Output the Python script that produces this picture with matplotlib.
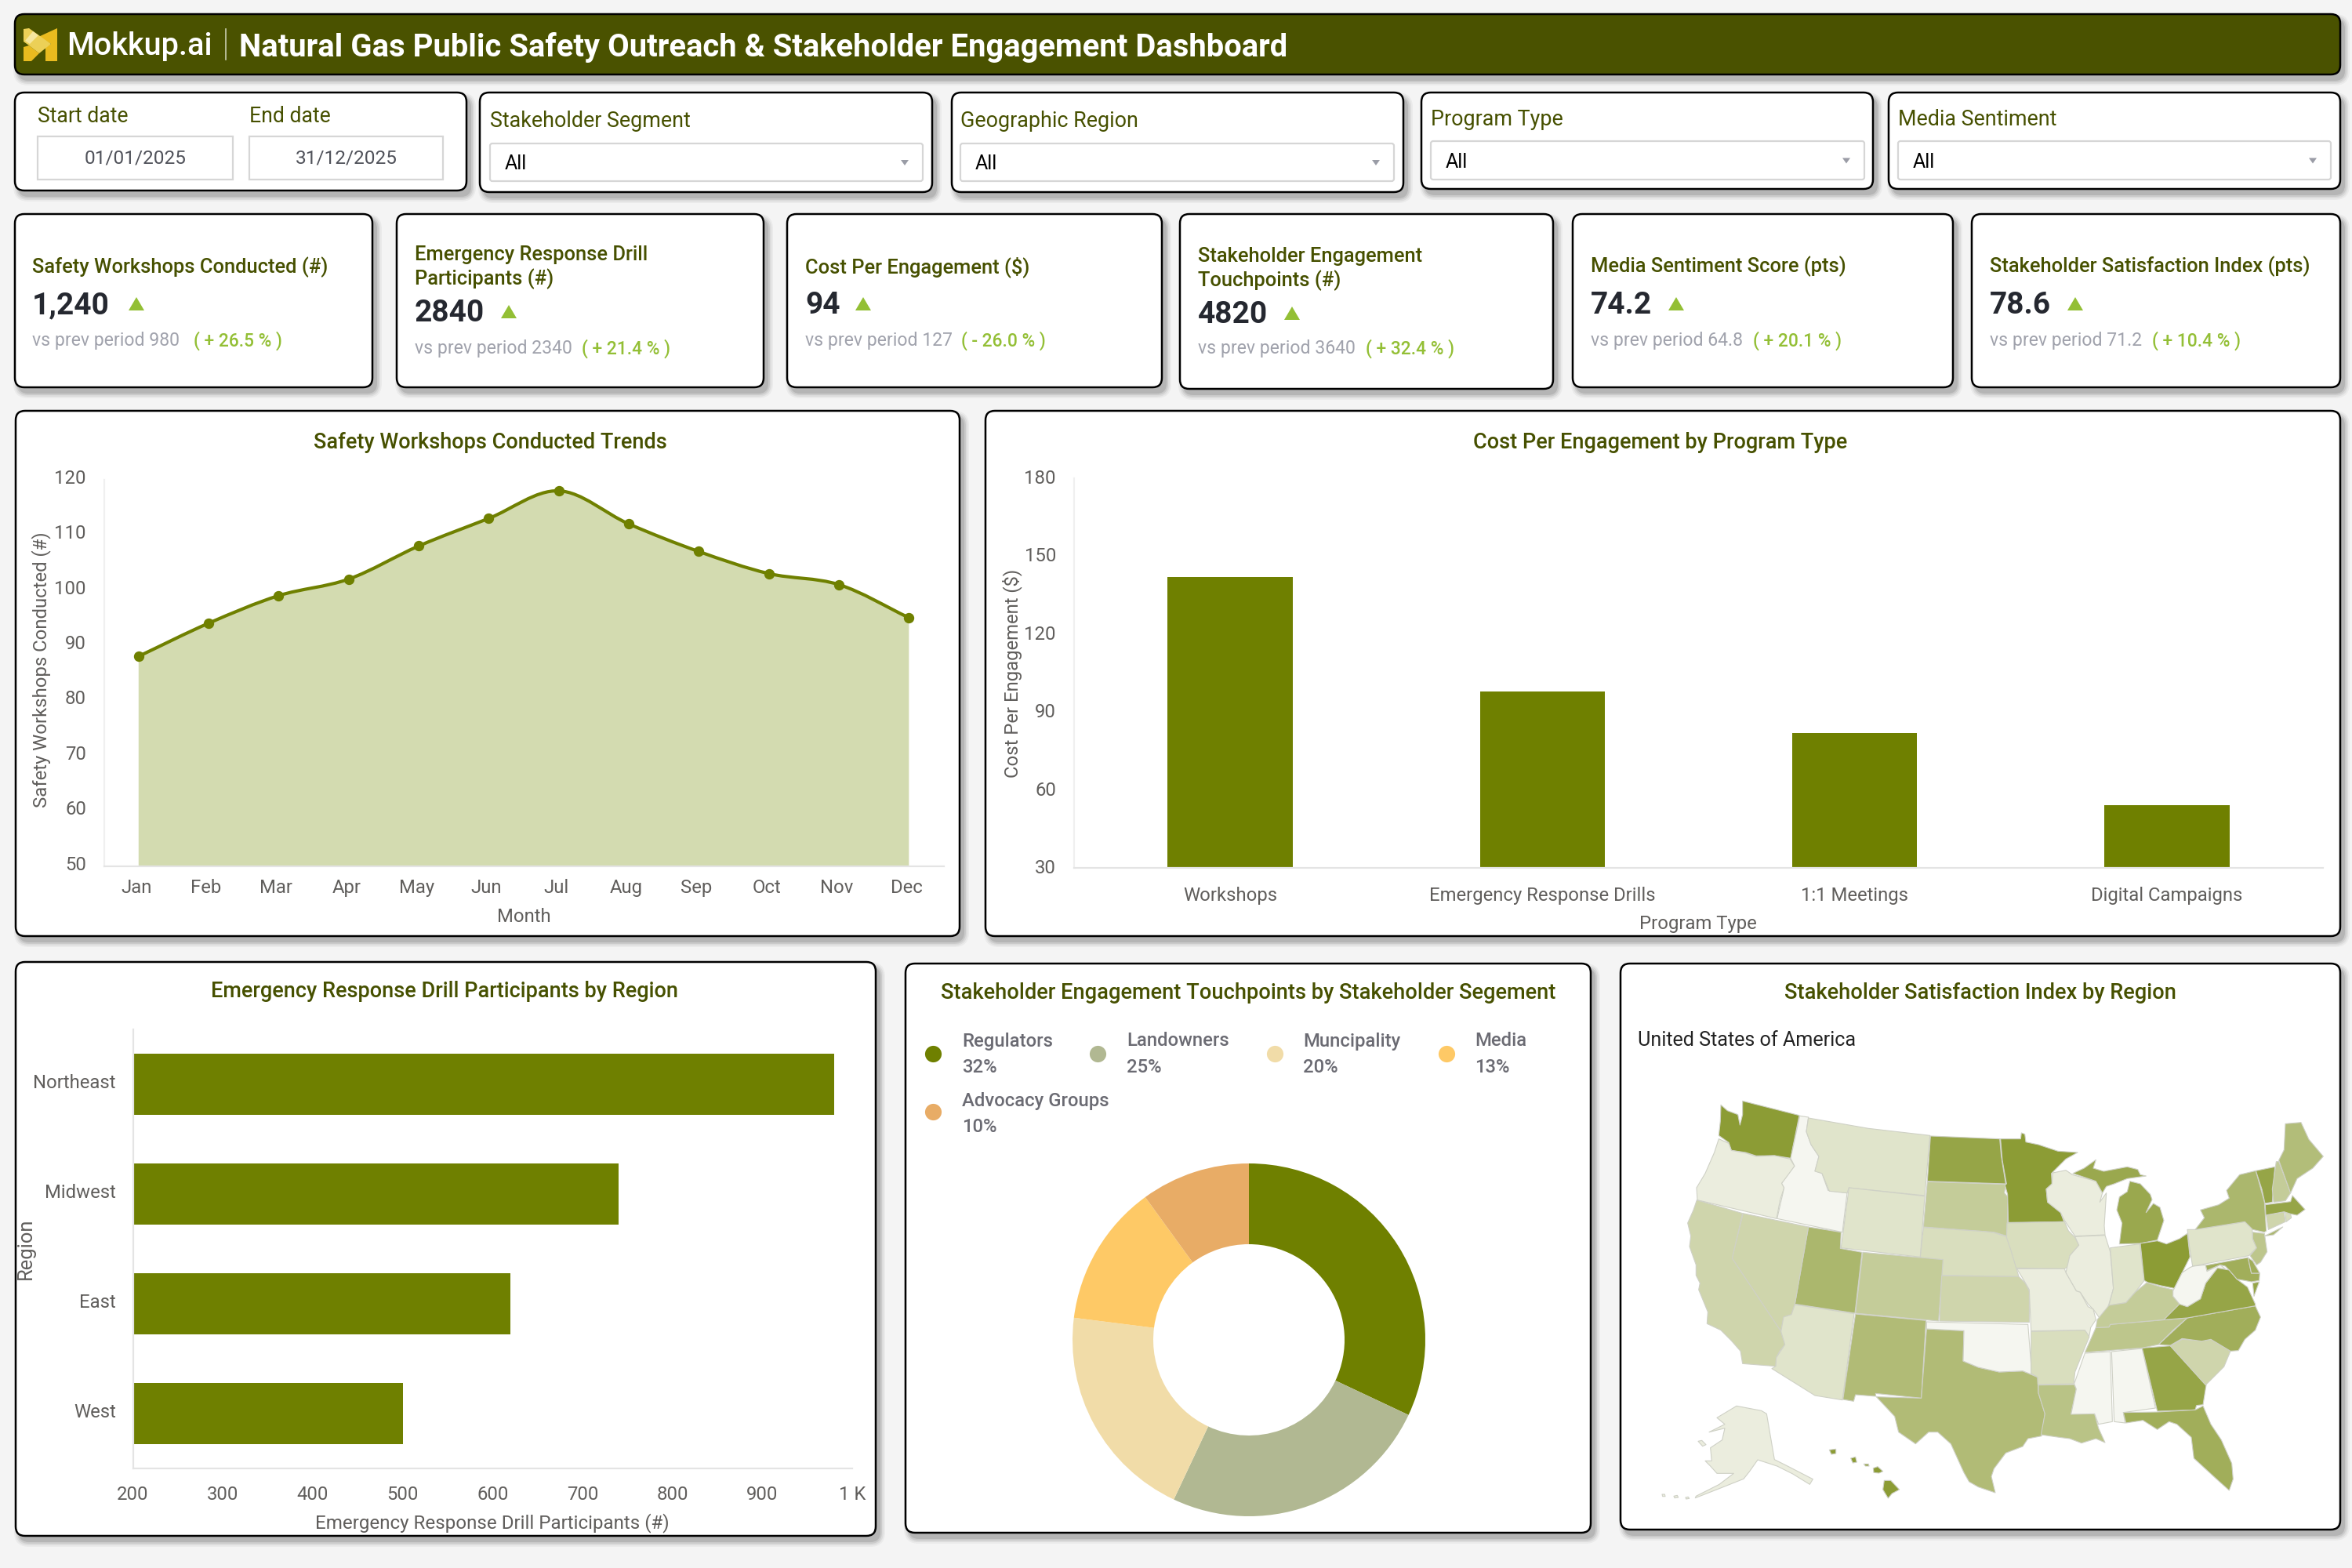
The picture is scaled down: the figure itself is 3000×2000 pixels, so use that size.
import numpy as np
import matplotlib
matplotlib.use("Agg")
import matplotlib.pyplot as plt
from matplotlib.patches import FancyBboxPatch, Polygon, PathPatch, Rectangle
from matplotlib.path import Path
from matplotlib.colors import LinearSegmentedColormap, Normalize
from matplotlib.transforms import ScaledTranslation

plt.rcParams["font.family"] = ["Roboto", "DejaVu Sans"]

# ---- chart data -------------------------------------------------------------
MONTHS = ["Jan", "Feb", "Mar", "Apr", "May", "Jun", "Jul", "Aug", "Sep", "Oct", "Nov", "Dec"]
WORKSHOPS = [88, 94, 99, 102, 108, 113, 118, 112, 107, 103, 101, 95]

PROGRAMS = ["Workshops", "Emergency Response Drills", "1:1 Meetings", "Digital Campaigns"]
COST_PER_ENGAGEMENT = [142, 98, 82, 54]

REGIONS = ["Northeast", "Midwest", "East", "West"]
DRILL_PARTICIPANTS = [980, 740, 620, 500]

SEGMENTS = ["Regulators", "Landowners", "Muncipality", "Media", "Advocacy Groups"]
SEGMENT_SHARE = [32, 25, 20, 13, 10]
SEGMENT_COLORS = ["#6f8000", "#b1b892", "#f1dca8", "#fec966", "#e8ac66"]

KPI_TITLES = [
    ["Safety Workshops Conducted (#)"],
    ["Emergency Response Drill", "Participants (#)"],
    ["Cost Per Engagement ($)"],
    ["Stakeholder Engagement", "Touchpoints (#)"],
    ["Media Sentiment Score (pts)"],
    ["Stakeholder Satisfaction Index (pts)"],
]
KPI_VALUES = ["1,240", "2840", "94", "4820", "74.2", "78.6"]
KPI_PREVIOUS = ["980", "2340", "127", "3640", "64.8", "71.2"]
KPI_DELTAS = ["( + 26.5 % )", "( + 21.4 % )", "( - 26.0 % )", "( + 32.4 % )", "( + 20.1 % )", "( + 10.4 % )"]

FILTER_NAMES = ["Stakeholder Segment", "Geographic Region", "Program Type", "Media Sentiment"]

STATE_SCORE = {
    "WA": 90, "OR": 63, "ID": 60, "MT": 66, "ND": 87, "SD": 74, "WY": 66, "NE": 68, "CO": 74,
    "KS": 71, "UT": 81, "NV": 71, "CA": 71, "AZ": 66, "NM": 79.5, "TX": 79.5, "OK": 60, "AK": 63,
    "HI": 90, "MN": 90, "WI": 63, "MI": 86, "IA": 68, "IL": 63, "IN": 66, "OH": 90, "MO": 63,
    "AR": 68, "LA": 77, "MS": 60, "AL": 60, "GA": 87, "FL": 84, "SC": 71, "NC": 84, "TN": 76,
    "KY": 74, "VA": 87, "WV": 60, "MD": 84, "DE": 84, "PA": 66, "NJ": 76, "NY": 81, "CT": 71,
    "RI": 68, "MA": 87, "VT": 87, "NH": 74, "ME": 79,
}

# State outlines, in map units (three units to a figure pixel), grouped by origin
WEST_ORIGIN = (2100, 1380)
WEST_SHAPES = {
    "WA": [[(285, 88), (310, 110), (350, 125), (358, 165), (368, 125), (368, 73), (585, 128), (552, 292), (490, 282), (420, 283), (380, 270), (325, 262), (315, 232), (277, 205), (283, 150)]],
    "OR": [[(277, 218), (315, 235), (325, 262), (380, 272), (420, 285), (490, 282), (550, 295), (567, 322), (535, 368), (518, 388), (527, 405), (512, 450), (498, 523), (195, 452), (192, 405), (225, 350), (260, 270)]],
    "ID": [[(587, 130), (620, 135), (612, 190), (630, 240), (660, 285), (645, 340), (672, 350), (695, 415), (768, 425), (750, 575), (500, 523), (527, 405), (518, 388), (567, 322), (552, 292)]],
    "MT": [[(620, 138), (850, 178), (1085, 205), (1065, 435), (775, 405), (768, 425), (700, 418), (672, 350), (645, 342), (660, 285), (630, 240), (612, 190)]],
    "ND": [[(1087, 207), (1352, 218), (1358, 285), (1375, 390), (1075, 380)]],
    "SD": [[(1075, 382), (1375, 392), (1370, 425), (1383, 440), (1380, 590), (1330, 575), (1290, 572), (1060, 555)]],
    "WY": [[(775, 405), (1065, 437), (1048, 670), (745, 635)]],
    "NE": [[(1060, 557), (1290, 572), (1330, 577), (1378, 592), (1400, 650), (1412, 700), (1425, 745), (1130, 740), (1135, 682), (1048, 672)]],
    "CO": [[(828, 652), (1135, 680), (1118, 915), (800, 885)]],
    "KS": [[(1130, 742), (1425, 745), (1450, 770), (1465, 800), (1465, 920), (1122, 915)]],
    "UT": [[(620, 555), (745, 575), (742, 637), (825, 652), (798, 885), (568, 850)]],
    "NV": [[(370, 503), (620, 555), (568, 850), (555, 890), (525, 900), (515, 955), (328, 675)]],
    "CA": [[(193, 452), (368, 503), (328, 675), (515, 955), (530, 1005), (510, 1030), (497, 1055), (495, 1088), (368, 1078), (360, 1030), (325, 990), (285, 950), (232, 925), (235, 880), (200, 795), (205, 770), (190, 740), (190, 700), (165, 630), (170, 590), (158, 540), (180, 490)]],
    "AZ": [[(568, 852), (795, 887), (750, 1217), (645, 1200), (480, 1097), (495, 1088), (497, 1055), (530, 1005), (515, 955), (525, 900), (555, 890)]],
    "NM": [[(800, 888), (1070, 913), (1052, 1210), (877, 1192), (878, 1203), (800, 1197), (793, 1222), (752, 1215)]],
    "TX": [[(1072, 945), (1215, 952), (1212, 1068), (1270, 1092), (1350, 1110), (1440, 1106), (1497, 1130), (1500, 1190), (1525, 1270), (1512, 1355), (1460, 1365), (1440, 1395), (1375, 1420), (1330, 1480), (1320, 1510), (1335, 1572), (1270, 1550), (1235, 1530), (1215, 1495), (1165, 1385), (1115, 1340), (1080, 1340), (1030, 1385), (965, 1340), (950, 1280), (880, 1205), (1052, 1210)]],
    "OK": [[(1072, 918), (1460, 928), (1475, 1120), (1440, 1106), (1350, 1110), (1270, 1092), (1212, 1068), (1215, 952), (1072, 945)]],
    "AK": [[(270, 1285), (345, 1240), (440, 1258), (460, 1270), (490, 1445), (540, 1470), (637, 1520), (625, 1540), (560, 1500), (500, 1470), (426, 1446), (395, 1490), (372, 1519), (279, 1556), (187, 1592), (190, 1585), (279, 1540), (334, 1498), (270, 1498), (245, 1470), (225, 1450), (250, 1450), (245, 1400), (290, 1370), (300, 1325), (240, 1340), (300, 1310)],
           [(198, 1375), (212, 1372), (228, 1388), (215, 1394)],
           [(150, 1590), (160, 1588), (164, 1594), (152, 1596)],
           [(105, 1585), (118, 1582), (122, 1590), (108, 1592)],
           [(60, 1578), (70, 1578), (72, 1586), (62, 1586)]],
    "HI": [[(700, 1408), (725, 1405), (725, 1422), (708, 1425)],
           [(782, 1440), (800, 1435), (805, 1455), (790, 1458)],
           [(832, 1462), (850, 1462), (852, 1470), (838, 1470)],
           [(868, 1478), (885, 1472), (905, 1490), (890, 1497), (870, 1495)],
           [(910, 1525), (935, 1525), (968, 1560), (940, 1575), (925, 1593), (905, 1560)]],
}

EAST_ORIGIN = (2500, 1400)
EAST_SHAPES = {
    "MN": [[(155, 158), (232, 158), (235, 135), (248, 140), (252, 170), (300, 180), (375, 205), (450, 210), (405, 235), (350, 290), (352, 330), (330, 350), (335, 400), (385, 440), (398, 475), (185, 478), (182, 370), (172, 335), (178, 330), (162, 240)]],
    "WI": [[(355, 288), (405, 278), (430, 295), (520, 320), (545, 365), (535, 400), (560, 365), (552, 490), (555, 525), (440, 530), (400, 470), (385, 440), (335, 400), (330, 350), (352, 330)]],
    "MI": [[(432, 290), (475, 270), (520, 238), (510, 270), (550, 282), (640, 265), (680, 275), (690, 295), (712, 300), (640, 310), (590, 330), (560, 340), (545, 365), (520, 320)],
           [(610, 560), (620, 480), (600, 430), (610, 380), (640, 360), (650, 320), (690, 330), (728, 370), (735, 390), (712, 440), (740, 405), (765, 420), (780, 470), (755, 545), (690, 558)]],
    "IA": [[(180, 480), (400, 475), (415, 510), (440, 535), (455, 565), (420, 605), (425, 640), (400, 655), (215, 652), (195, 585), (178, 535)]],
    "IL": [[(440, 532), (555, 527), (575, 590), (587, 730), (570, 790), (555, 830), (535, 845), (510, 810), (490, 790), (460, 745), (445, 740), (405, 670), (420, 605), (455, 565)]],
    "IN": [[(575, 575), (688, 560), (705, 700), (670, 745), (635, 785), (570, 795), (587, 730)]],
    "OH": [[(690, 558), (755, 548), (790, 560), (840, 540), (870, 520), (880, 610), (850, 670), (820, 730), (770, 720), (720, 708), (705, 700)]],
    "MO": [[(218, 655), (400, 655), (405, 670), (445, 740), (460, 745), (490, 800), (510, 810), (520, 850), (500, 880), (495, 910), (475, 915), (475, 890), (272, 893), (265, 735), (245, 700)]],
    "AR": [[(272, 895), (478, 890), (495, 915), (470, 975), (440, 1050), (435, 1095), (298, 1098), (297, 1070), (272, 1055)]],
    "LA": [[(300, 1100), (437, 1098), (445, 1115), (425, 1210), (515, 1210), (530, 1265), (555, 1320), (520, 1305), (465, 1322), (420, 1305), (380, 1300), (310, 1290), (325, 1210), (300, 1130)]],
    "MS": [[(478, 978), (575, 972), (583, 1240), (530, 1250), (515, 1210), (425, 1212), (445, 1115), (437, 1095)]],
    "AL": [[(580, 972), (697, 960), (748, 1188), (625, 1205), (632, 1245), (590, 1240)]],
    "GA": [[(697, 958), (805, 950), (942, 1100), (930, 1175), (905, 1178), (900, 1195), (755, 1200)]],
    "FL": [[(625, 1205), (755, 1203), (900, 1195), (930, 1180), (960, 1250), (1000, 1310), (1040, 1400), (1045, 1460), (1030, 1503), (981, 1459), (895, 1380), (885, 1300), (830, 1250), (800, 1240), (755, 1270), (700, 1235), (635, 1245)]],
    "SC": [[(805, 950), (850, 925), (925, 930), (960, 925), (1035, 970), (1010, 1030), (940, 1100)]],
    "NC": [[(760, 945), (870, 843), (1130, 797), (1150, 840), (1130, 890), (1090, 925), (1065, 968), (1035, 970), (960, 925), (925, 932), (850, 922), (805, 948)]],
    "TN": [[(478, 975), (520, 880), (570, 878), (575, 868), (870, 843), (815, 890), (760, 945), (697, 958)]],
    "KY": [[(520, 880), (525, 850), (570, 795), (635, 785), (670, 745), (715, 708), (770, 725), (815, 735), (815, 760), (840, 790), (780, 850), (575, 868), (570, 878)]],
    "VA": [[(780, 850), (840, 790), (870, 800), (920, 770), (940, 710), (985, 652), (1030, 660), (1060, 695), (1100, 725), (1130, 790), (1130, 797), (870, 843)],
           [(1120, 710), (1145, 705), (1125, 760)]],
    "WV": [[(815, 740), (850, 670), (880, 650), (892, 645), (940, 640), (945, 665), (995, 640), (1015, 655), (985, 652), (940, 710), (920, 770), (870, 800), (840, 790), (815, 760)]],
    "MD": [[(940, 642), (1102, 612), (1115, 672), (1147, 672), (1145, 700), (1115, 705), (1090, 700), (1060, 695), (1030, 660), (1015, 645), (995, 640), (945, 662)]],
    "DE": [[(1102, 612), (1120, 625), (1147, 672), (1115, 672)]],
    "PA": [[(870, 505), (900, 505), (1090, 475), (1118, 500), (1120, 540), (1135, 575), (1105, 605), (890, 645), (878, 570)]],
    "NJ": [[(1120, 515), (1165, 520), (1175, 590), (1150, 630), (1135, 640), (1110, 605), (1135, 575), (1120, 540)]],
    "NY": [[(900, 505), (935, 460), (920, 430), (990, 410), (1030, 385), (1020, 355), (1070, 295), (1132, 280), (1165, 400), (1172, 510), (1165, 515), (1120, 505), (1090, 475)],
           [(1165, 530), (1235, 495), (1200, 525)]],
    "CT": [[(1172, 450), (1240, 438), (1245, 475), (1180, 505)]],
    "RI": [[(1245, 437), (1262, 432), (1268, 460), (1248, 475)]],
    "MA": [[(1168, 410), (1265, 398), (1272, 375), (1320, 428), (1290, 450), (1265, 445), (1240, 437), (1170, 450)]],
    "VT": [[(1132, 280), (1205, 265), (1195, 400), (1167, 405), (1155, 350)]],
    "NH": [[(1210, 245), (1220, 245), (1265, 365), (1245, 395), (1200, 400), (1195, 350)]],
    "ME": [[(1220, 240), (1240, 200), (1245, 100), (1305, 95), (1335, 160), (1390, 225), (1350, 270), (1290, 310), (1265, 365)]],
}

# ---- palette ----------------------------------------------------------------
PAGE = "#f4f4f4"
HEADER = "#4a5200"
OLIVE = "#6f8000"
AREA = "#d3dbb0"
TITLE_COLOR = "#465000"
AXIS_TEXT = "#605e5c"
AXIS_LINE = "#e4e4e4"
INK = "#252830"
MUTED = "#a0a2ac"
GREEN = "#93bf35"
SCORE_CMAP = LinearSegmentedColormap.from_list("score", ["#f5f6f0", "#8c9c35"])
SCORE_NORM = Normalize(60, 90)

W, H = 3000, 2000
fig = plt.figure(figsize=(15, 10), dpi=200, facecolor=PAGE)

page = fig.add_axes([0, 0, 1, 1], zorder=0)
page.set_xlim(0, W)
page.set_ylim(H, 0)
page.axis("off")


def card(x0, y0, x1, y1, face="white", radius=12):
    """White panel with a black rim and a soft drop shadow."""
    for grow, alpha in [(7, 0.04), (5, 0.06), (3, 0.08), (1, 0.10)]:
        page.add_patch(FancyBboxPatch((x0 + 5 - grow, y0 + 7 - grow), x1 - x0 + 2 * grow, y1 - y0 + 2 * grow,
                                      boxstyle=f"round,pad=0,rounding_size={radius + grow}",
                                      fc="black", ec="none", alpha=alpha, zorder=1))
    page.add_patch(FancyBboxPatch((x0, y0), x1 - x0, y1 - y0,
                                  boxstyle=f"round,pad=0,rounding_size={radius}",
                                  fc=face, ec="black", lw=0.9, zorder=2))


def label(x, y, s, size=9, color=TITLE_COLOR, ha="left", weight="normal", **kw):
    return page.text(x, y, s, fontsize=size, color=color, ha=ha, va="center", weight=weight, zorder=5, **kw)


def inset(x0, y0, x1, y1):
    """Axes placed by its figure pixel box, y measured from the top."""
    ax = fig.add_axes([x0 / W, 1 - y1 / H, (x1 - x0) / W, (y1 - y0) / H], zorder=3)
    ax.patch.set_alpha(0)
    return ax


def style_axis(ax):
    for side in ("top", "right"):
        ax.spines[side].set_visible(False)
    for side in ("left", "bottom"):
        ax.spines[side].set_color(AXIS_LINE)
        ax.spines[side].set_linewidth(0.8)
    ax.tick_params(length=0, labelsize=8.6, labelcolor=AXIS_TEXT)


def nudge(tick_labels, dx=0, dy=0):
    """Shift tick labels by a number of figure pixels (dy upwards)."""
    shift = ScaledTranslation(dx / 200, dy / 200, fig.dpi_scale_trans)
    for text in tick_labels:
        text.set_transform(text.get_transform() + shift)


# ---- header -----------------------------------------------------------------
card(19, 18, 2985, 95, face=HEADER)
page.add_patch(Polygon([(73, 36), (73, 78), (58, 78), (58, 60), (65, 56), (49, 47)], fc="#e9bb1f", ec="none", zorder=5))
page.add_patch(Polygon([(30, 60), (37, 58), (50, 68), (40, 78), (30, 78)], fc="#e9bb1f", ec="none", zorder=5))
page.add_patch(Polygon([(30, 37), (37, 36), (65, 56), (50, 68), (37, 58), (30, 53)], fc="#ecd057", ec="none", zorder=6))
page.add_patch(Polygon([(42, 40), (49, 45), (38, 56), (32, 52)], fc="#f6e7a0", ec="none", zorder=6))
label(85, 59, "Mokkup.ai", size=14.3, color="white", weight="medium")
page.plot([288, 288], [37, 76], color="#c9cdb0", lw=0.6, zorder=5)
label(305, 60, "Natural Gas Public Safety Outreach & Stakeholder Engagement Dashboard", size=14.4, color="white", weight="bold")

# ---- date range and dropdown filters ----------------------------------------
card(19, 118, 595, 243)
for x, text, (bx0, bx1), value in [(48, "Start date", (48, 297), "01/01/2025"), (318, "End date", (318, 565), "31/12/2025")]:
    label(x, 149, text, size=9.6)
    page.add_patch(Rectangle((bx0, 174), bx1 - bx0, 55, fc="white", ec="#d6d6d6", lw=0.8, zorder=4))
    label((bx0 + bx1) / 2, 202, value, size=8.8, color="#50525a", ha="center")

filter_boxes = [(612, 1189, 245, 625, 1177, 155, 183, 231),
                (1214, 1790, 245, 1225, 1778, 155, 183, 231),
                (1813, 2389, 241, 1825, 2378, 153, 180, 229),
                (2409, 2985, 241, 2421, 2973, 152, 180, 229)]
for name, (cx0, cx1, cy1, bx0, bx1, ly, by0, by1) in zip(FILTER_NAMES, filter_boxes):
    card(cx0, 118, cx1, cy1)
    label(bx0, ly, name, size=9.7)
    page.add_patch(FancyBboxPatch((bx0, by0), bx1 - bx0, by1 - by0, boxstyle="round,pad=0,rounding_size=3",
                                  fc="white", ec="#d6d6d6", lw=0.8, zorder=4))
    label(bx0 + 19, (by0 + by1) / 2 + 2, "All", size=9, color="black")
    cx, cy = bx1 - 23, (by0 + by1) / 2
    page.add_patch(Polygon([(cx - 5, cy - 3), (cx + 5, cy - 3), (cx, cy + 4)], fc="#9a9ca6", ec="none", zorder=5))

# ---- KPI cards --------------------------------------------------------------
kpi_cards = [(19, 475, 494), (506, 974, 494), (1004, 1482, 494), (1505, 1981, 496), (2006, 2491, 494), (2515, 2985, 494)]
kpi_layout = [(41, 341, 388, 174, 434, 247), (529, 325, 398, 649, 444, 742), (1027, 341, 388, 1101, 434, 1226),
              (1528, 327, 400, 1648, 444, 1742), (2029, 340, 388, 2138, 434, 2236), (2538, 340, 388, 2647, 434, 2745)]
for i, (cx0, cx1, cy1) in enumerate(kpi_cards):
    card(cx0, 273, cx1, cy1)
    tx, ty, vy, trx, py, dx = kpi_layout[i]
    for n, line in enumerate(KPI_TITLES[i]):
        label(tx, ty + n * 31, line, size=9.2, weight="medium")
    label(tx, vy + 2, KPI_VALUES[i], size=14, color=INK, weight="bold")
    page.add_patch(Polygon([(trx - 10, vy + 8), (trx + 10, vy + 8), (trx, vy - 9)], fc=GREEN, ec="none", zorder=5))
    label(tx, py + 1, "vs prev period " + KPI_PREVIOUS[i], size=8.3, color=MUTED)
    label(dx, py + 1, KPI_DELTAS[i], size=8.2, color=GREEN, weight="medium")

# ---- monthly workshops area chart -------------------------------------------
card(20, 524, 1224, 1194)
label(625, 565, "Safety Workshops Conducted Trends", size=9.75, ha="center", weight="medium")
ax = inset(133, 612, 1204, 1104.5)
style_axis(ax)
ax.spines["left"].set_color("#f0f0f0")
x = np.arange(len(MONTHS))
y = np.array(WORKSHOPS, dtype=float)
# Catmull-Rom tangents turned into cubic Bezier segments through every month
tangent = np.gradient(y, x)
verts = [(x[0], y[0])]
codes = [Path.MOVETO]
for i in range(len(x) - 1):
    verts += [(x[i] + 1 / 3, y[i] + tangent[i] / 3), (x[i + 1] - 1 / 3, y[i + 1] - tangent[i + 1] / 3), (x[i + 1], y[i + 1])]
    codes += [Path.CURVE4] * 3
ax.add_patch(PathPatch(Path(verts + [(x[-1], 50), (x[0], 50), (x[0], y[0])], codes + [Path.LINETO] * 3),
                       fc=AREA, ec="none", zorder=2))
ax.add_patch(PathPatch(Path(verts, codes), fc="none", ec=OLIVE, lw=1.5, capstyle="round", zorder=3))
ax.plot(x, y, ls="none", marker="o", ms=3.8, color=OLIVE, zorder=4, clip_on=False)
ax.set_xlim(-0.49, 11.5)
ax.set_ylim(50, 120)
ax.set_yticks(range(50, 121, 10))
ax.set_xticks(x, MONTHS)
ax.tick_params(axis="x", pad=7.5)
ax.tick_params(axis="y", pad=8.3)
nudge(ax.get_yticklabels(), dy=4)
nudge(ax.get_xticklabels(), dx=-3, dy=4)
label(668, 1170, "Month", size=8.6, color=AXIS_TEXT, ha="center")
label(53, 854, "Safety Workshops Conducted (#)", size=8.6, color=AXIS_TEXT, ha="center", rotation=90)

# ---- cost per engagement bars -----------------------------------------------
card(1257, 524, 2985, 1194)
label(2118, 564, "Cost Per Engagement by Program Type", size=9.75, ha="center", weight="medium")
ax = inset(1370, 610, 2963, 1107)
style_axis(ax)
ax.spines["left"].set_color("#f0f0f0")
ax.bar(range(len(PROGRAMS)), np.array(COST_PER_ENGAGEMENT) - 30, bottom=30, width=0.4, color=OLIVE, zorder=2)
ax.set_xlim(-0.5, 3.5)
ax.set_ylim(30, 180)
ax.set_yticks(range(30, 181, 30))
ax.set_xticks(range(len(PROGRAMS)), PROGRAMS)
ax.tick_params(axis="x", pad=9.5)
ax.tick_params(axis="y", pad=8.3)
nudge(ax.get_yticklabels(), dy=2)
nudge(ax.get_xticklabels(), dy=2)
label(2166, 1179, "Program Type", size=8.6, color=AXIS_TEXT, ha="center")
label(1291, 859, "Cost Per Engagement ($)", size=8.6, color=AXIS_TEXT, ha="center", rotation=90)

# ---- drill participants horizontal bars -------------------------------------
card(20, 1227, 1117, 1959)
label(567, 1264, "Emergency Response Drill Participants by Region", size=9.75, ha="center", weight="medium")
ax = inset(169.5, 1313, 1087, 1873)
style_axis(ax)
positions = np.arange(len(REGIONS))
ax.barh(positions, np.array(DRILL_PARTICIPANTS) - 200, left=200, height=0.556, color=OLIVE, zorder=2)
ax.set_xlim(200, 1000)
ax.set_ylim(3.5, -0.5)
ax.set_yticks(positions, REGIONS)
ticks = list(range(200, 1001, 100))
ax.set_xticks(ticks, [str(t) if t < 1000 else "1 K" for t in ticks])
ax.tick_params(axis="x", pad=8.5)
ax.tick_params(axis="y", pad=7.5)
nudge(ax.get_yticklabels(), dx=-1, dy=4)
nudge(ax.get_xticklabels(), dy=2)
label(628, 1943, "Emergency Response Drill Participants (#)", size=8.7, color=AXIS_TEXT, ha="center")
label(33, 1593, "Region", size=9.2, color=AXIS_TEXT, ha="center", rotation=90)

# ---- stakeholder segment donut ----------------------------------------------
card(1155, 1229, 2029, 1955)
label(1592, 1267, "Stakeholder Engagement Touchpoints by Stakeholder Segement", size=9.8, ha="center", weight="medium")
legend_layout = [(1190, 1227, 1344, 1328, 1362), (1400, 1437, 1344, 1328, 1362), (1626, 1662, 1344, 1328, 1362),
                 (1845, 1881, 1344, 1328, 1362), (1190, 1227, 1418, 1404, 1438)]
for name, share, color, (mx, tx, my, ny, py) in zip(SEGMENTS, SEGMENT_SHARE, SEGMENT_COLORS, legend_layout):
    page.scatter([mx], [my], s=58, color=color, zorder=5, linewidths=0)
    label(tx, ny, name, size=8.6, color="#6b6b73", weight="medium")
    label(tx, py, f"{share}%", size=8.6, color="#6b6b73", weight="medium")
ax = inset(1593 - 230, 1709 - 230, 1593 + 230, 1709 + 230)
ax.pie(SEGMENT_SHARE, colors=SEGMENT_COLORS, startangle=90, counterclock=False, radius=225 / 230,
       wedgeprops={"width": 103 / 230, "linewidth": 0})
ax.set_xlim(-1, 1)
ax.set_ylim(-1, 1)

# ---- satisfaction choropleth ------------------------------------------------
card(2067, 1229, 2985, 1951)
label(2526, 1266, "Stakeholder Satisfaction Index by Region", size=9.8, ha="center", weight="medium")
label(2089, 1327, "United States of America", size=9.05, color="#222222")
ax = inset(2067, 1229, 2985, 1951)
ax.set_xlim(2067, 2985)
ax.set_ylim(1951, 1229)
ax.axis("off")
for shapes, (ox, oy) in [(WEST_SHAPES, WEST_ORIGIN), (EAST_SHAPES, EAST_ORIGIN)]:
    for state, parts in shapes.items():
        fill = SCORE_CMAP(SCORE_NORM(STATE_SCORE[state]))
        for part in parts:
            outline = np.array(part, dtype=float) / 3 + (ox, oy)
            ax.add_patch(Polygon(outline, fc=fill, ec="#cfd1c6", lw=0.4, joinstyle="round"))

fig.savefig("out.png", dpi=200, facecolor=PAGE)
